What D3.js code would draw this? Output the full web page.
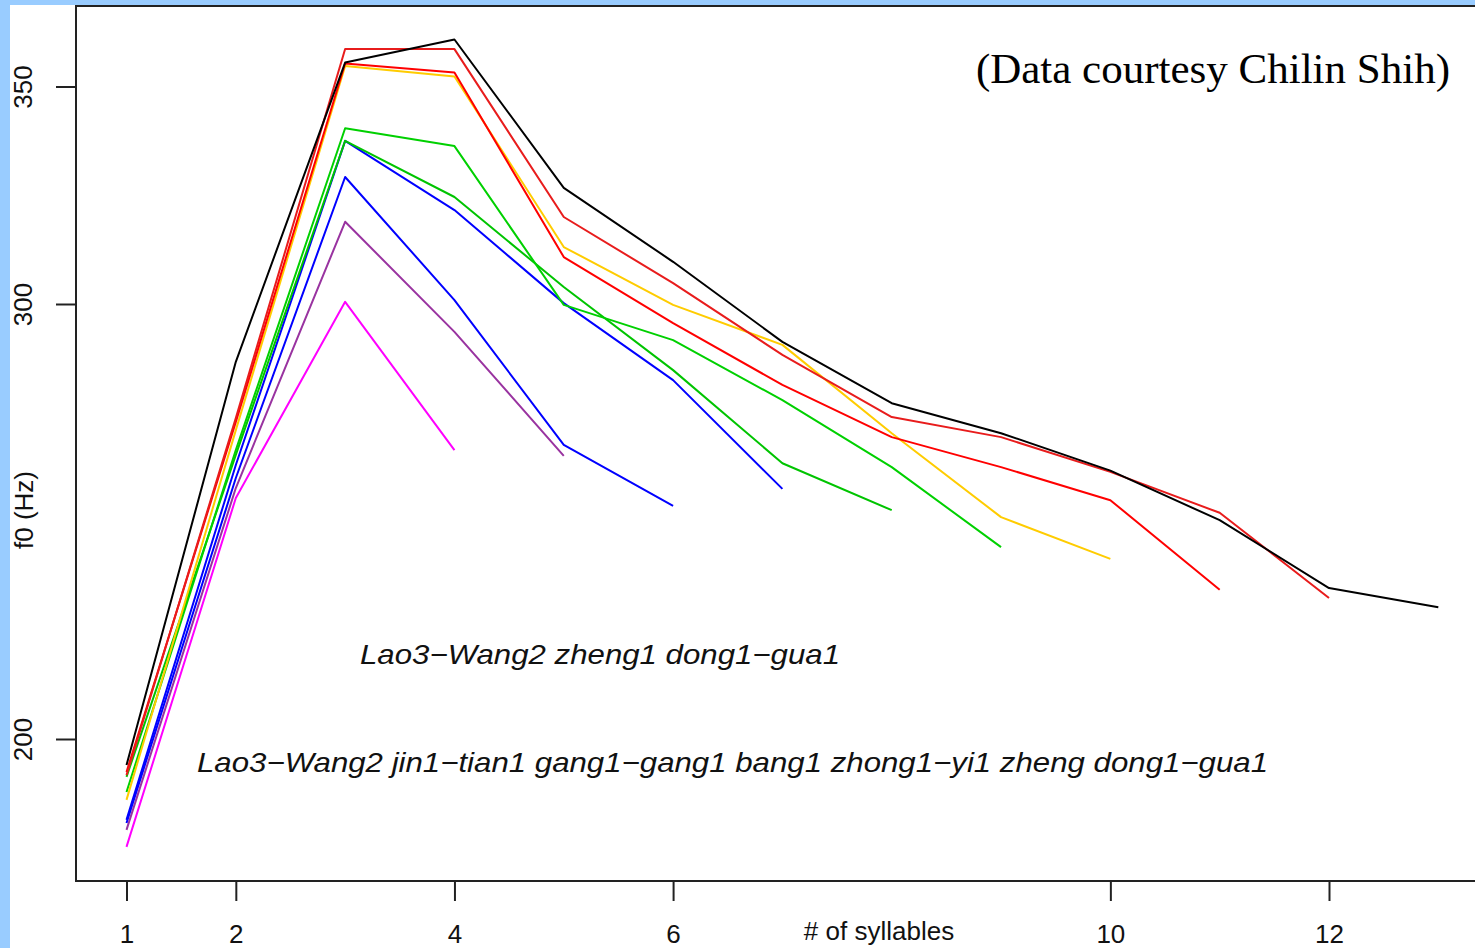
<!DOCTYPE html>
<html>
<head>
<meta charset="utf-8">
<script src="https://cdn.jsdelivr.net/npm/d3@7"></script>
<style>
  html, body { margin: 0; padding: 0; background: #99ccff; overflow: hidden; }
</style>
</head>
<body>
<div id="chart"></div>
<script>
// f0 peak per syllable, one series per utterance length (Hz)
const syllables = [1, 2, 3, 4, 5, 6, 7, 8, 9, 10, 11, 12, 13]
const magenta4 = [175.2, 255.4, 300.5, 266.4]
const purple5  = [179.1, 257.7, 318.9, 293.6, 265.1]
const blue6    = [180.7, 260.0, 329.2, 300.9, 267.6, 253.6]
const blue7    = [181.4, 263.0, 337.5, 321.6, 300.2, 282.5, 257.5]
const green8   = [191.3, 265.3, 337.5, 324.6, 303.9, 284.8, 263.4, 252.6]
const green9   = [187.8, 266.4, 340.4, 336.3, 299.8, 291.7, 277.9, 262.5, 244.1]
const yellow10 = [186.0, 271.0, 354.7, 352.3, 313.1, 299.8, 290.6, 270.3, 251.0, 241.4]
const red11    = [192.4, 272.9, 355.3, 353.2, 310.8, 295.6, 281.4, 269.4, 262.5, 254.9, 234.3]
const red12    = [191.7, 273.8, 358.6, 358.6, 320.0, 304.8, 288.3, 274.0, 269.4, 261.4, 252.0, 232.4]
const black13  = [194.0, 286.7, 355.5, 360.8, 326.7, 309.7, 291.3, 277.2, 270.3, 261.7, 250.3, 234.7, 230.3]

const xTicks = [1, 2, 4, 6, 10, 12]
const yTicks = [200, 300, 350]

const series = [
  {values: magenta4, color: "#ff00ff"},
  {values: purple5,  color: "#9933a0"},
  {values: blue6,    color: "#0000ff"},
  {values: blue7,    color: "#0000ff"},
  {values: green8,   color: "#00c400"},
  {values: green9,   color: "#00d000"},
  {values: yellow10, color: "#ffcc00"},
  {values: red11,    color: "#ff0000"},
  {values: red12,    color: "#e81c1c"},
  {values: black13,  color: "#000000"}
]

const W = 1475, H = 948
const plot = {left: 76, top: 6, bottom: 881}

const svg = d3.select("#chart").append("svg")
    .attr("width", W)
    .attr("height", H)

svg.append("rect")
    .attr("width", W).attr("height", H)
    .attr("fill", "#99ccff")
svg.append("rect")
    .attr("x", 10).attr("y", 5)
    .attr("width", W - 10).attr("height", H - 5)
    .attr("fill", "#ffffff")

const x = d3.scaleLinear()
    .domain([1, 12])
    .range([126.5, 1329])

const y = d3.scaleLinear()
    .domain([200, 350])
    .range([739, 86.5])

const line = d3.line()
    .x((d, i) => x(syllables[i]))
    .y(d => y(d))

// frame (right edge falls off the picture)
svg.append("path")
    .attr("d", "M" + W + "," + plot.top + "H" + plot.left + "V" + plot.bottom + "H" + W)
    .attr("fill", "none")
    .attr("stroke", "#222")
    .attr("stroke-width", 2)

const yAxis = svg.append("g")
    .attr("transform", "translate(" + plot.left + ",0)")
    .call(d3.axisLeft(y).tickValues(yTicks).tickSize(20).tickFormat(d3.format("d")))
yAxis.select(".domain").remove()
yAxis.selectAll(".tick line").attr("stroke", "#222").attr("stroke-width", 2)
yAxis.selectAll(".tick text")
    .attr("x", 0).attr("dy", 0)
    .attr("transform", "translate(-44,0) rotate(-90)")
    .attr("text-anchor", "middle")
    .style("font-family", "Liberation Sans, Arial, sans-serif")
    .style("font-size", "26px")
    .attr("fill", "#111")

const xAxis = svg.append("g")
    .attr("transform", "translate(0," + plot.bottom + ")")
    .call(d3.axisBottom(x).tickValues(xTicks).tickSize(20).tickFormat(d3.format("d")))
xAxis.select(".domain").remove()
xAxis.selectAll(".tick line").attr("stroke", "#222").attr("stroke-width", 2)
xAxis.selectAll(".tick text")
    .attr("y", 62).attr("dy", 0)
    .style("font-family", "Liberation Sans, Arial, sans-serif")
    .style("font-size", "26px")
    .attr("fill", "#111")

svg.append("text")
    .attr("x", 879).attr("y", 940)
    .attr("text-anchor", "middle")
    .style("font-family", "Liberation Sans, Arial, sans-serif")
    .style("font-size", "26px")
    .attr("fill", "#111")
    .text("# of syllables")

svg.append("text")
    .attr("transform", "translate(33,510) rotate(-90)")
    .attr("text-anchor", "middle")
    .style("font-family", "Liberation Sans, Arial, sans-serif")
    .style("font-size", "26px")
    .attr("fill", "#111")
    .text("f0 (Hz)")

svg.selectAll(".series")
    .data(series)
  .enter().append("path")
    .attr("class", "series")
    .attr("d", d => line(d.values))
    .attr("fill", "none")
    .attr("stroke", d => d.color)
    .attr("stroke-width", 2)
    .attr("stroke-linejoin", "round")

svg.append("text")
    .attr("x", 1450).attr("y", 83)
    .attr("text-anchor", "end")
    .style("font-family", "Liberation Serif, Times New Roman, serif")
    .style("font-size", "43px")
    .attr("fill", "#000")
    .text("(Data courtesy Chilin Shih)")

svg.append("text")
    .attr("x", 360).attr("y", 664)
    .attr("textLength", 480)
    .attr("lengthAdjust", "spacingAndGlyphs")
    .style("font-family", "Liberation Sans, Arial, sans-serif")
    .style("font-style", "italic")
    .style("font-size", "28px")
    .attr("fill", "#111")
    .text("Lao3\u2212Wang2 zheng1 dong1\u2212gua1")

svg.append("text")
    .attr("x", 197).attr("y", 772)
    .attr("textLength", 1071)
    .attr("lengthAdjust", "spacingAndGlyphs")
    .style("font-family", "Liberation Sans, Arial, sans-serif")
    .style("font-style", "italic")
    .style("font-size", "28px")
    .attr("fill", "#111")
    .text("Lao3\u2212Wang2 jin1\u2212tian1 gang1\u2212gang1 bang1 zhong1\u2212yi1 zheng dong1\u2212gua1")
</script>
</body>
</html>
